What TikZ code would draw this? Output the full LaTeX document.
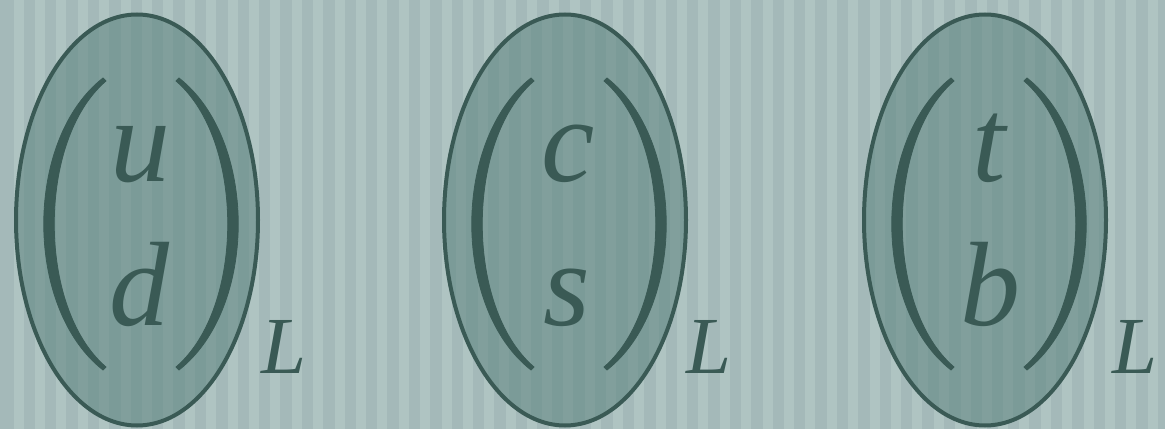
\documentclass[tikz,border=0pt]{standalone}
\usepackage{fontspec}
\newfontfamily\quarkfont{Liberation Serif}

\definecolor{bgbase}{HTML}{A4B9B9}
\definecolor{bgstripe}{HTML}{AFC4C2}
\definecolor{darkteal}{HTML}{3A5A55}
\definecolor{blobbase}{HTML}{7B9B98}
\definecolor{blobstripe}{HTML}{819F9C}

\begin{document}
\begin{tikzpicture}[x=1pt, y=1pt,
	blob/.style={draw=darkteal, line width=4pt},
	paren/.style={fill=darkteal, draw=darkteal, line width=0.8pt, line join=round}]
	\useasboundingbox (0,0) rectangle (1165,429);
	% background with vertical stripes
	\fill[bgbase] (0,0) rectangle (1165,429);
	\foreach \i in {0,...,54}
		\fill[bgstripe] ({13.5+21.4*\i},0) rectangle +(10,429);
	% doublet u d
	\begin{scope}[shift={(137,209)}]
		\begin{scope}
			\clip (0,0) ellipse [x radius=121, y radius=205.5];
			\fill[blobbase] (-130,-215) rectangle (130,215);
			\foreach \i in {0,...,12}
				\fill[blobstripe] ({-123.5+21.4*\i},-215) rectangle +(10,430);
		\end{scope}
		\draw[blob] (0,0) ellipse [x radius=121, y radius=205.5];
		\begin{scope}[xshift=4]
			\fill[paren] (-38,142) .. controls (-117,80) and (-117,-88) .. (-38,-150) -- (-35,-147) .. controls (-104,-88) and (-104,80) .. (-35,139) -- cycle;
			\fill[paren, xscale=-1] (-38,142) .. controls (-117,80) and (-117,-88) .. (-38,-150) -- (-35,-147) .. controls (-104,-88) and (-104,80) .. (-35,139) -- cycle;
		\end{scope}
		\node[font=\quarkfont\itshape\fontsize{120}{120}\selectfont, text=darkteal, anchor=base, inner sep=0pt] (up) at (3,38) {u};
		\node[font=\quarkfont\itshape\fontsize{120}{120}\selectfont, text=darkteal, anchor=base, inner sep=0pt] (down) at (2,-105) {d};
		\node[font=\quarkfont\itshape\fontsize{81}{81}\selectfont, text=darkteal, anchor=base west, inner sep=0pt] (Lud) at (124,-153) {L};
	\end{scope}
	% doublet c s
	\begin{scope}[shift={(565,209)}]
		\begin{scope}
			\clip (0,0) ellipse [x radius=121, y radius=205.5];
			\fill[blobbase] (-130,-215) rectangle (130,215);
			\foreach \i in {0,...,12}
				\fill[blobstripe] ({-130.1+21.4*\i},-215) rectangle +(10,430);
		\end{scope}
		\draw[blob] (0,0) ellipse [x radius=121, y radius=205.5];
		\begin{scope}[xshift=4]
			\fill[paren] (-38,142) .. controls (-117,80) and (-117,-88) .. (-38,-150) -- (-35,-147) .. controls (-104,-88) and (-104,80) .. (-35,139) -- cycle;
			\fill[paren, xscale=-1] (-38,142) .. controls (-117,80) and (-117,-88) .. (-38,-150) -- (-35,-147) .. controls (-104,-88) and (-104,80) .. (-35,139) -- cycle;
		\end{scope}
		\node[font=\quarkfont\itshape\fontsize{120}{120}\selectfont, text=darkteal, anchor=base, inner sep=0pt] (charm) at (3,38) {c};
		\node[font=\quarkfont\itshape\fontsize{120}{120}\selectfont, text=darkteal, anchor=base, inner sep=0pt] (strange) at (2,-105) {s};
		\node[font=\quarkfont\itshape\fontsize{81}{81}\selectfont, text=darkteal, anchor=base west, inner sep=0pt] (Lcs) at (121,-153) {L};
	\end{scope}
	% doublet t b
	\begin{scope}[shift={(985,209)}]
		\begin{scope}
			\clip (0,0) ellipse [x radius=121, y radius=205.5];
			\fill[blobbase] (-130,-215) rectangle (130,215);
			\foreach \i in {0,...,12}
				\fill[blobstripe] ({-131.5+21.4*\i},-215) rectangle +(10,430);
		\end{scope}
		\draw[blob] (0,0) ellipse [x radius=121, y radius=205.5];
		\begin{scope}[xshift=4]
			\fill[paren] (-38,142) .. controls (-117,80) and (-117,-88) .. (-38,-150) -- (-35,-147) .. controls (-104,-88) and (-104,80) .. (-35,139) -- cycle;
			\fill[paren, xscale=-1] (-38,142) .. controls (-117,80) and (-117,-88) .. (-38,-150) -- (-35,-147) .. controls (-104,-88) and (-104,80) .. (-35,139) -- cycle;
		\end{scope}
		\node[font=\quarkfont\itshape\fontsize{120}{120}\selectfont, text=darkteal, anchor=base, inner sep=0pt] (top) at (4,38) {t};
		\node[font=\quarkfont\itshape\fontsize{120}{120}\selectfont, text=darkteal, anchor=base, inner sep=0pt] (bottom) at (5,-105) {b};
		\node[font=\quarkfont\itshape\fontsize{81}{81}\selectfont, text=darkteal, anchor=base west, inner sep=0pt] (Ltb) at (127,-153) {L};
	\end{scope}
\end{tikzpicture}
\end{document}
